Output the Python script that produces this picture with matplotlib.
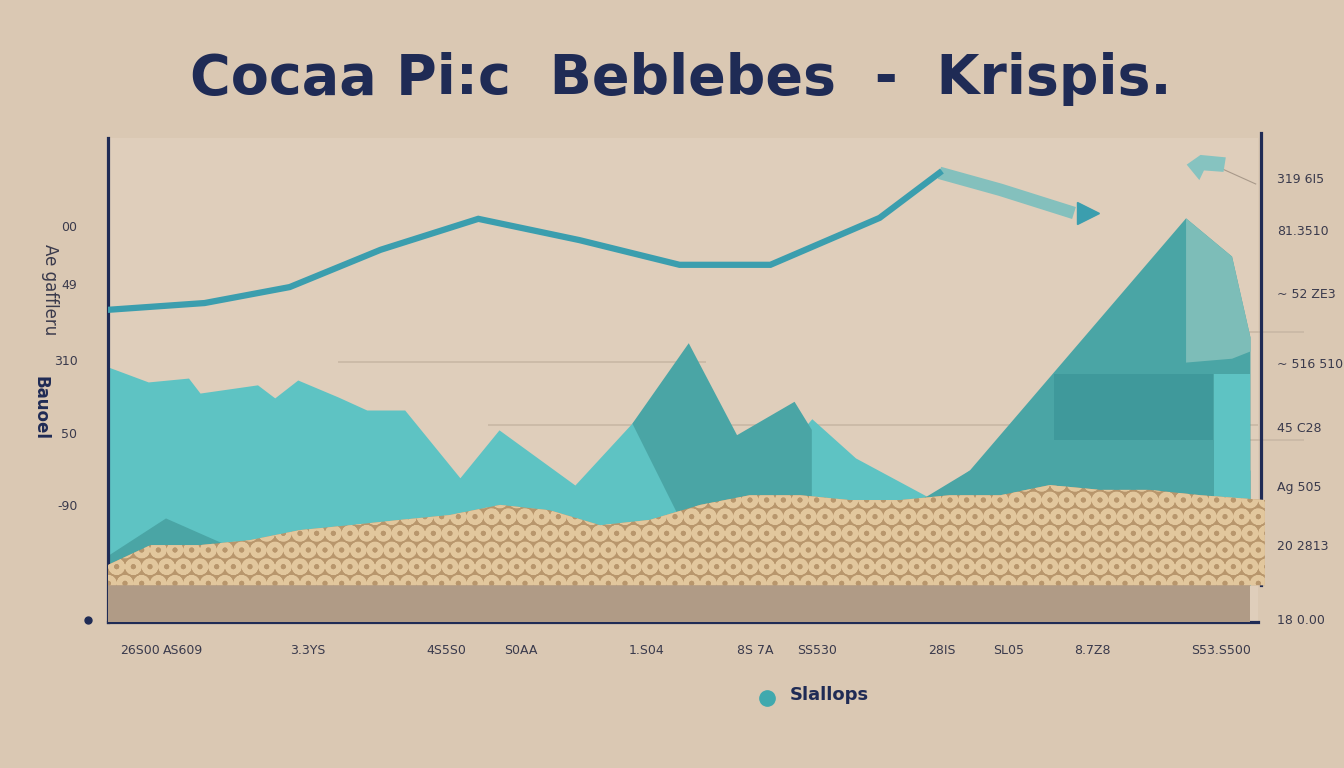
import numpy as np
import matplotlib.pyplot as plt
from matplotlib.lines import Line2D

# colours
bg = '#dac8b3'
navy = '#1f2b55'
teal_line = '#3b9eae'
teal_light = '#5ec3c3'
teal_dark = '#4aa5a5'

# line series
line_x = [0, 8.4, 15.8, 23.7, 32.2, 41.0, 49.7, 57.6, 67.1, 72.3]
line_y = [64.5, 65.9, 69.2, 76.9, 83.3, 78.9, 73.8, 73.8, 83.5, 92.8]
tail_x = [72.3, 77.6, 84.0]
tail_y = [92.8, 89.3, 84.5]

# light area
light_x = [0, 3.5, 7.0, 8.0, 13.0, 14.5, 16.5, 20.0, 22.5, 25.8, 30.6, 34.0, 40.6,
           45.8, 50.5, 59.6, 61.2, 65.0, 71.5, 74.9, 99.3]
light_y = [52.7, 49.6, 50.4, 47.3, 49.0, 46.3, 50.0, 46.5, 43.8, 43.8, 29.8, 39.7, 28.3,
           41.7, 37.6, 37.6, 42.0, 33.9, 25.6, 31.4, 31.4]

# darker peaks (outline incl. base)
peak_x = [49.8, 45.6, 50.5, 54.7, 59.7, 61.2, 61.2]
peak_y = [21.0, 41.0, 57.6, 38.6, 45.5, 39.7, 21.0]
small_x = [0, 5.0, 13.3]
small_y = [13.8, 21.5, 12.8]
mtn_x = [71.0, 74.9, 93.7, 97.7, 99.3]
mtn_y = [25.8, 31.4, 83.5, 75.6, 58.9]
facet_x = [93.7, 97.7, 99.3]
facet_top = [83.5, 75.6, 58.9]
facet_bot = [53.7, 54.5, 56.0]
flag_x = [93.8, 95.0, 97.2, 97.0, 95.3, 94.9]
flag_y = [94.5, 96.5, 96.0, 93.0, 93.3, 91.3]

# cereal pile
pile_x = [0, 3.7, 8.0, 12.3, 16.7, 21.0, 25.4, 29.7, 34.1, 38.4, 42.8, 47.1, 51.5, 55.8,
          60.2, 64.5, 68.9, 73.2, 77.6, 81.9, 86.3, 90.6, 95.0, 100.6]
pile_y = [11.8, 15.9, 15.9, 16.9, 19.0, 20.0, 21.1, 22.1, 24.2, 23.1, 20.0, 21.1, 24.2, 26.2,
          26.2, 25.2, 25.2, 26.2, 26.2, 28.3, 27.3, 27.3, 26.2, 25.2]
ledge = 7.6

left_ticks = [81.8, 69.8, 54.1, 39.0, 24.2]
left_labels = ['00', '49', '310', '50', '-90']
right_ticks = [91.7, 80.9, 67.9, 53.5, 40.2, 28.1, 15.9, 0.6]
right_labels = ['319 6I5', '81.3510', '~ 52 ZE3', '~ 516 510', '45 C28', 'Ag 505', '20 2813', '18 0.00']
x_ticks = [2.8, 6.5, 17.4, 29.4, 35.9, 46.8, 56.3, 61.7, 72.5, 78.3, 85.6, 96.8]
x_labels = ['26S00', 'AS609', '3.3YS', '4S5S0', 'S0AA', '1.S04', '8S 7A', 'SS530',
            '28IS', 'SL05', '8.7Z8', 'S53.S500']

plt.rcParams['hatch.linewidth'] = 3.6
fig = plt.figure(figsize=(13.44, 7.68), dpi=100)
fig.patch.set_facecolor(bg)
ax = fig.add_axes([108/1344, 1-622/768, 1150/1344, 484/768])
ax.set_facecolor('#dfcebb')
ax.set_xlim(0, 100)
ax.set_ylim(0, 100)

# faint grid lines
ax.hlines([53.7], 20, 52, color='#c9b8a5', lw=1.2, zorder=1)
ax.hlines([40.7], 33, 100, color='#c9b8a5', lw=1.2, zorder=1)
ax.hlines([37.6], 99, 104, color='#c9b8a5', lw=1.2, zorder=1, clip_on=False)
ax.hlines([59.9], 99, 104, color='#c9b8a5', lw=1.2, zorder=1, clip_on=False)

ax.fill_between(light_x, light_y, ledge, color=teal_light, lw=0, zorder=2)
ax.fill_between(small_x, small_y, ledge, color=teal_dark, lw=0, zorder=2.5)
ax.fill(peak_x, peak_y, color=teal_dark, lw=0, zorder=2.5)
ax.fill_between(mtn_x, mtn_y, ledge, color=teal_dark, lw=0, zorder=2.5)
ax.fill_between(facet_x, facet_top, facet_bot, color='#7dbdb8', lw=0, zorder=2.6)
ax.bar([89.2], [13.6], bottom=[37.6], width=13.8, color='#3f999b', lw=0, zorder=2.6)
ax.bar([97.75], [51.2 - ledge], bottom=[ledge], width=3.1, color=teal_light, lw=0, zorder=2.6)

# line
ax.plot(line_x, line_y, color=teal_line, lw=4.5, solid_joinstyle='miter', zorder=4)
ax.plot(tail_x, tail_y, color='#84c0bd', lw=9, solid_capstyle='butt', zorder=3.9)
ax.plot([tail_x[-1] + 1.2], [tail_y[-1]], marker='>', ms=16, color=teal_line, zorder=4)
ax.fill(flag_x, flag_y, color='#86c3c0', lw=0, clip_on=False, zorder=4)
ax.plot([97.0, 99.8], [93.5, 90.5], color='#a8998a', lw=0.8, clip_on=False)

# pile
ax.axhspan(0, ledge, xmin=0, xmax=0.993, color='#b09b86', lw=0, zorder=5)
ax.fill_between(pile_x, pile_y, ledge, facecolor='#b8966c', edgecolor='#e2c79d',
                hatch='O', lw=0, zorder=5, clip_on=False)

# spines
ax.spines['top'].set_visible(False)
for s in ['left', 'bottom', 'right']:
    ax.spines[s].set_color(navy)
    ax.spines[s].set_linewidth(2.3)
ax.spines['right'].set_bounds(ledge, 101)
ax.spines['right'].set_position(('data', 100.3))

ax.set_yticks(left_ticks, left_labels)
ax.set_xticks(x_ticks, x_labels)
ax.tick_params(axis='y', length=0, pad=22, labelsize=9, labelcolor='#3a3a4c')
ax.tick_params(axis='x', length=0, pad=16, labelsize=9, labelcolor='#3a3a4c')
ax.plot([-1.7], [0.5], 'o', color=navy, ms=5, clip_on=False)

ax2 = ax.twinx()
ax2.set_ylim(0, 100)
for s in ax2.spines.values():
    s.set_visible(False)
ax2.set_yticks(right_ticks, right_labels)
ax2.tick_params(axis='y', length=0, pad=14, labelsize=9, labelcolor='#3a3a4c')

ax.set_ylabel('Ae gaffleru', fontsize=12, color='#3a3a4c', rotation=-90, labelpad=0)
ax.yaxis.set_label_coords(-0.058, 0.686)
fig.text(40/1344, 1-408/768, 'Bauoel', fontsize=12, fontweight='bold', color=navy,
         rotation=-90, ha='center', va='center')

fig.text(681/1344, 1-79/768, 'Cocaa Pi:c  Beblebes  -  Krispis.', fontsize=40,
         fontweight='bold', color=navy, ha='center', va='center', family='DejaVu Sans')

fig.add_artist(Line2D([767/1344], [1-698/768], marker='o', ms=11, color='#40a9ae',
                      transform=fig.transFigure))
fig.text(790/1344, 1-695/768, 'Slallops', fontsize=13, fontweight='bold', color=navy,
         va='center')

fig.savefig('out.png', dpi=100, facecolor=bg)
